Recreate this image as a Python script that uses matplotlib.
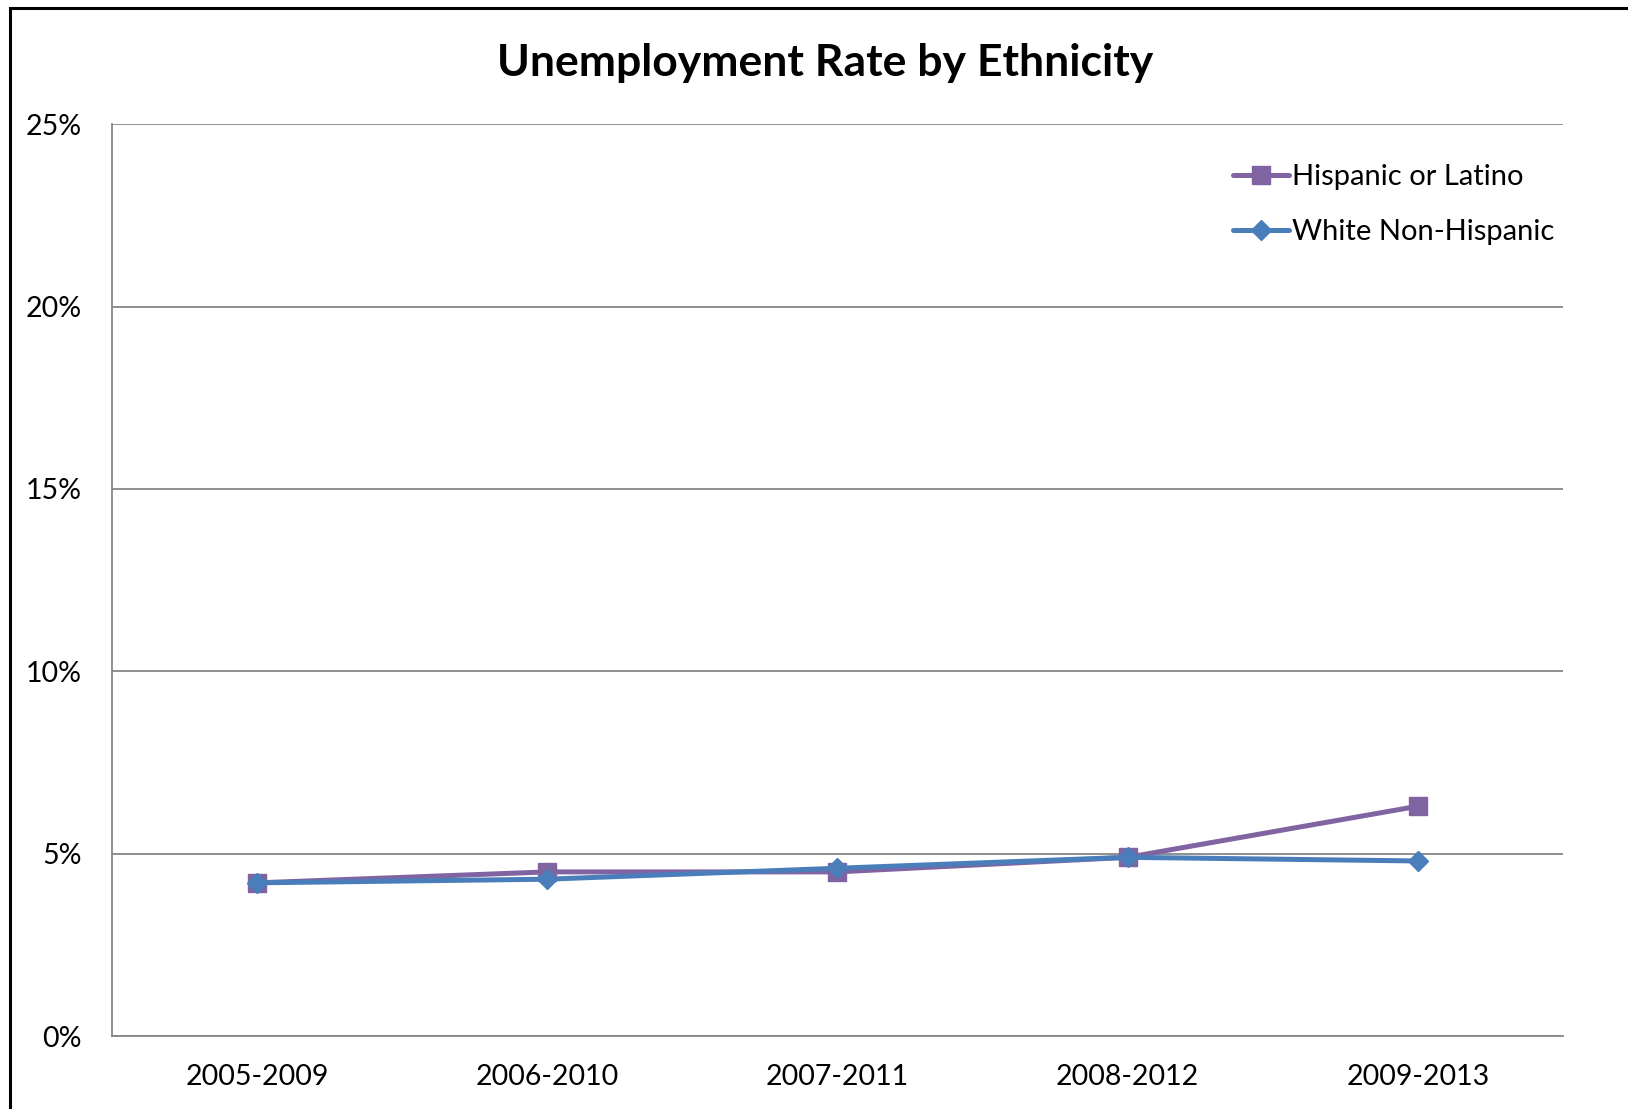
import matplotlib.pyplot as plt
from matplotlib.patches import Rectangle
from matplotlib.ticker import FuncFormatter

periods = ['2005-2009', '2006-2010', '2007-2011', '2008-2012', '2009-2013']
hispanic = [4.2, 4.5, 4.5, 4.9, 6.3]
white = [4.2, 4.3, 4.6, 4.9, 4.8]

plt.rcParams['font.family'] = ['Lato', 'DejaVu Sans']

fig = plt.figure(figsize=(16.28, 11.09), dpi=100)
ax = fig.add_axes([0.0688, 0.0658, 0.8912, 0.8222])

x = list(range(len(periods)))
ax.plot(x, hispanic, color='#8064A2', linewidth=3.6, marker='s', markersize=13,
        label='Hispanic or Latino', solid_joinstyle='round', solid_capstyle='round')
ax.plot(x, white, color='#4A7EBB', linewidth=3.6, marker='D', markersize=10,
        label='White Non-Hispanic', solid_joinstyle='round', solid_capstyle='round')

ax.set_xlim(-0.5, len(periods) - 0.5)
ax.set_ylim(0, 25)
ax.set_yticks([0, 5, 10, 15, 20, 25])
ax.yaxis.set_major_formatter(FuncFormatter(lambda v, p: '{:.0f}%'.format(v)))
ax.set_xticks(x)
ax.set_xticklabels(periods)
ax.tick_params(axis='both', length=0, labelsize=20.5, colors='black')
ax.tick_params(axis='y', pad=22)
ax.tick_params(axis='x', pad=20)

ax.grid(axis='y', color='#868686', linewidth=1.3)
ax.set_axisbelow(True)
for side in ['top', 'right']:
    ax.spines[side].set_visible(False)
for side in ['left', 'bottom']:
    ax.spines[side].set_color('#868686')
    ax.spines[side].set_linewidth(1.3)

leg = ax.legend(loc='upper right', bbox_to_anchor=(1.012, 0.985), frameon=False,
                fontsize=21, handlelength=1.9, handletextpad=0.1, labelspacing=1.0)

fig.text(0.507, 0.943, 'Unemployment Rate by Ethnicity', ha='center', va='center',
         fontsize=32, fontweight='bold')

# outer chart border (right and bottom edges are cropped off)
fig.patches.append(Rectangle((0.0061, -0.1), 1.2, 1.0928, transform=fig.transFigure,
                             fill=False, edgecolor='black', linewidth=2.2))

fig.savefig('out.png', dpi=100)
